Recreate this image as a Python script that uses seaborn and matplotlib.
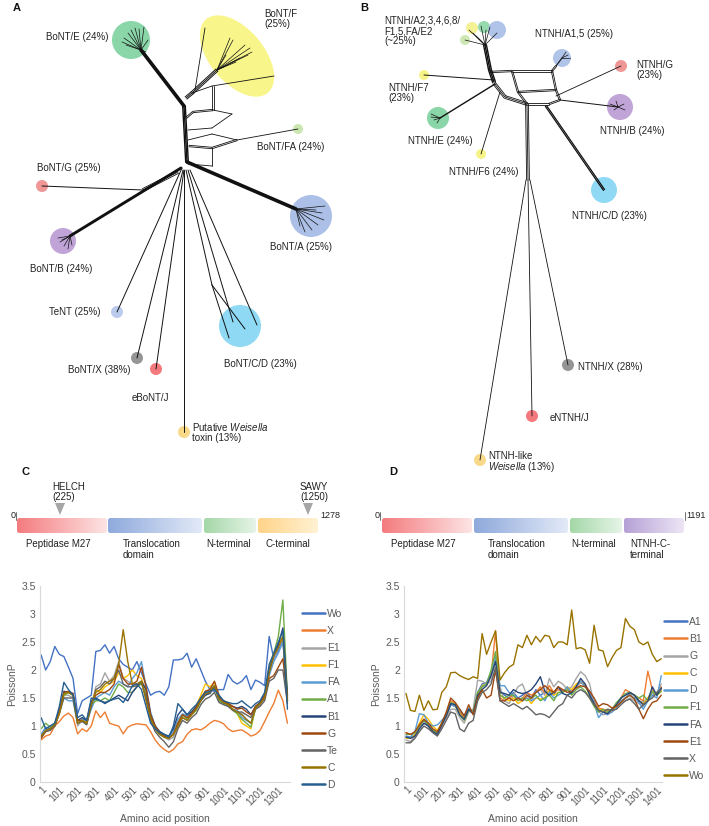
import numpy as np
import pandas as pd
import matplotlib
matplotlib.use("Agg")
import matplotlib.pyplot as plt
import seaborn as sns
from matplotlib.patches import Circle, Ellipse, FancyBboxPatch, Polygon
from matplotlib.colors import LinearSegmentedColormap

sns.set_theme(style="white")
plt.rcParams['font.family'] = ['Liberation Sans', 'DejaVu Sans']
plt.rcParams['mathtext.fontset'] = 'custom'
plt.rcParams['mathtext.rm'] = 'Liberation Sans'
plt.rcParams['mathtext.it'] = 'Liberation Sans:italic'

# ---------------------------------------------------------------
# DATA: PoissonP profiles (sampled every 25 aa)
# ---------------------------------------------------------------
pos_c = np.arange(1, 1352, 25)
pos_d = np.arange(1, 1427, 25)

c_order = ["Wo", "X", "E1", "F1", "FA", "A1", "B1", "G", "Te", "C", "D"]
c_colors = ["#4472C4", "#ED7D31", "#A5A5A5", "#FFC000", "#5B9BD5", "#70AD47",
            "#264478", "#9E480E", "#636363", "#997300", "#255E91"]

c_wo = [2.27, 2.0, 2.15, 2.42, 2.28, 2.24, 2.05, 1.85, 1.22, 1.45, 1.5, 1.55, 2.33, 2.35, 2.45, 2.3, 2.42, 2.2, 2.1,
        2.05, 2.0, 2.15, 1.95, 1.75, 1.55, 1.6, 1.62, 1.55, 1.7, 2.18, 2.18, 2.2, 2.3, 2.05, 2.2, 2.0, 1.8, 1.65, 1.62,
        1.65, 1.65, 1.92, 1.8, 1.75, 1.8, 1.9, 1.65, 1.82, 1.78, 1.72, 2.6, 2.2, 2.35, 2.55, 1.45]
c_x = [0.75, 0.82, 0.85, 1.0, 1.08, 1.18, 1.23, 1.15, 0.86, 0.95, 0.9, 1.0, 1.27, 1.15, 1.25, 1.05, 1.02, 1.0, 0.86,
       0.98, 1.02, 1.04, 1.03, 1.02, 0.9, 0.75, 0.65, 0.58, 0.53, 0.58, 0.68, 0.72, 0.85, 0.93, 0.95, 0.93, 0.98, 1.05,
       1.1, 1.08, 1.04, 0.95, 0.9, 0.92, 0.93, 0.88, 0.82, 0.85, 0.92, 1.08, 1.25, 1.4, 1.64, 1.45, 1.05]
c_e1 = [0.85, 0.95, 1.0, 1.05, 1.25, 1.55, 1.55, 1.5, 1.0, 1.1, 1.08, 1.35, 1.7, 1.75, 1.95, 1.8, 1.9, 2.15, 1.85, 1.8,
        1.75, 1.75, 1.8, 1.55, 1.15, 0.95, 0.85, 0.8, 0.75, 0.8, 1.0, 1.15, 1.1, 1.2, 1.3, 1.45, 1.55, 1.6, 1.7, 1.45,
        1.4, 1.38, 1.3, 1.25, 1.22, 1.12, 1.05, 1.3, 1.38, 1.5, 1.95, 2.2, 2.4, 2.55, 1.45]
c_f1 = [0.8, 0.9, 0.95, 1.0, 1.22, 1.55, 1.6, 1.55, 1.1, 1.1, 1.05, 1.4, 1.65, 1.6, 1.7, 1.75, 1.8, 1.95, 1.85, 1.9,
        2.0, 1.9, 1.85, 1.6, 1.2, 0.98, 0.88, 0.82, 0.78, 0.88, 1.05, 1.2, 1.18, 1.25, 1.35, 1.55, 1.75, 1.7, 1.78, 1.5,
        1.45, 1.42, 1.3, 1.22, 1.05, 1.0, 0.95, 1.35, 1.42, 1.55, 2.05, 2.3, 2.45, 2.6, 1.45]
c_fa = [0.85, 0.98, 0.95, 1.05, 1.3, 1.5, 1.45, 1.45, 1.05, 1.12, 1.1, 1.3, 1.5, 1.55, 1.6, 1.55, 1.7, 1.8, 1.75, 1.7,
        1.85, 1.95, 2.15, 1.7, 1.25, 1.0, 0.9, 0.85, 0.8, 0.9, 1.12, 1.22, 1.18, 1.22, 1.3, 1.45, 1.62, 1.65, 1.72, 1.5,
        1.4, 1.35, 1.3, 1.28, 1.15, 1.1, 1.05, 1.3, 1.4, 1.5, 1.9, 2.15, 2.3, 2.5, 1.55]
c_a1 = [0.95, 1.05, 0.98, 1.05, 1.28, 1.55, 1.6, 1.55, 1.05, 1.1, 1.05, 1.38, 1.45, 1.45, 1.5, 1.45, 1.6, 1.75, 1.7,
        1.6, 1.6, 1.7, 1.75, 1.55, 1.15, 0.95, 0.85, 0.8, 0.78, 0.85, 1.05, 1.2, 1.12, 1.2, 1.28, 1.45, 1.6, 1.62, 1.72,
        1.45, 1.4, 1.38, 1.28, 1.22, 1.12, 1.05, 0.98, 1.32, 1.4, 1.52, 2.0, 2.3, 2.6, 3.25, 1.5]
c_b1 = [0.8, 0.92, 0.95, 1.0, 1.28, 1.62, 1.6, 1.58, 1.1, 1.15, 1.1, 1.45, 1.5, 1.45, 1.42, 1.45, 1.5, 1.55, 1.5, 1.45,
        1.6, 1.7, 1.8, 1.65, 1.2, 1.0, 0.9, 0.85, 0.82, 0.95, 1.2, 1.3, 1.2, 1.25, 1.35, 1.45, 1.55, 1.58, 1.7, 1.52,
        1.45, 1.4, 1.35, 1.32, 1.35, 1.3, 1.2, 1.35, 1.42, 1.55, 2.0, 2.25, 2.45, 2.75, 1.55]
c_g = [0.78, 0.9, 0.95, 1.0, 1.25, 1.6, 1.62, 1.58, 1.1, 1.1, 1.05, 1.4, 1.55, 1.6, 1.6, 1.65, 1.75, 2.1, 1.85, 1.75,
       1.75, 1.8, 2.05, 1.7, 1.2, 1.0, 0.88, 0.82, 0.78, 0.85, 1.05, 1.2, 1.15, 1.22, 1.32, 1.5, 1.62, 1.65, 1.8, 1.55,
       1.42, 1.4, 1.35, 1.3, 1.32, 1.25, 1.2, 1.35, 1.4, 1.55, 1.85, 1.9, 2.05, 2.2, 1.5]
c_te = [0.82, 0.9, 0.92, 1.0, 1.22, 1.5, 1.5, 1.5, 1.05, 1.08, 1.02, 1.35, 1.65, 1.7, 1.8, 1.75, 1.85, 2.0, 1.75, 1.7,
        1.7, 1.72, 1.78, 1.5, 1.1, 0.9, 0.8, 0.72, 0.62, 0.72, 0.95, 1.1, 1.05, 1.15, 1.22, 1.38, 1.48, 1.52, 1.6, 1.42,
        1.38, 1.35, 1.28, 1.25, 1.25, 1.2, 1.15, 1.3, 1.35, 1.45, 1.8, 1.85, 2.0, 2.0, 1.4]
c_c = [0.82, 0.92, 0.95, 1.02, 1.22, 1.58, 1.6, 1.55, 1.05, 1.1, 1.05, 1.4, 1.6, 1.65, 1.75, 1.8, 1.85, 2.1, 2.72, 2.15,
       1.75, 1.75, 1.8, 1.45, 1.15, 0.95, 0.85, 0.8, 0.78, 0.85, 1.0, 1.15, 1.1, 1.2, 1.3, 1.45, 1.58, 1.6, 1.72, 1.48,
       1.42, 1.38, 1.3, 1.25, 1.2, 1.12, 1.05, 1.32, 1.4, 1.5, 1.95, 2.25, 2.4, 2.6, 1.45]
c_d = [1.15, 0.95, 1.0, 1.05, 1.35, 1.78, 1.65, 1.55, 1.15, 1.2, 1.1, 1.5, 1.48, 1.45, 1.4, 1.45, 1.48, 1.5, 1.42, 1.55,
       1.72, 1.75, 1.65, 1.35, 1.05, 0.95, 0.88, 0.85, 0.8, 1.0, 1.4, 1.3, 1.2, 1.3, 1.38, 1.5, 1.6, 1.62, 1.65, 1.55,
       1.45, 1.42, 1.4, 1.4, 1.45, 1.38, 1.32, 1.4, 1.45, 1.6, 2.1, 2.3, 2.5, 2.7, 1.3]
c_series = [c_wo, c_x, c_e1, c_f1, c_fa, c_a1, c_b1, c_g, c_te, c_c, c_d]

d_order = ["A1", "B1", "G", "C", "D", "F1", "FA", "E1", "X", "Wo"]
d_colors = ["#4472C4", "#ED7D31", "#A5A5A5", "#FFC000", "#5B9BD5", "#70AD47",
            "#264478", "#9E480E", "#636363", "#997300"]

d_a1 = [0.82, 0.8, 0.85, 1.0, 1.1, 1.0, 0.9, 0.88, 1.05, 1.2, 1.38, 1.35, 1.25, 1.15, 1.28, 1.22, 1.6, 1.75, 1.78, 1.95,
        2.2, 1.62, 1.55, 1.5, 1.6, 1.5, 1.55, 1.6, 1.5, 1.65, 1.55, 1.6, 1.62, 1.55, 1.7, 1.62, 1.65, 1.58, 1.72, 1.78,
        1.72, 1.62, 1.45, 1.25, 1.28, 1.22, 1.3, 1.38, 1.45, 1.5, 1.58, 1.55, 1.45, 1.42, 1.5, 1.6, 1.55, 1.68]
d_b1 = [0.88, 0.85, 0.88, 1.0, 1.12, 1.05, 0.92, 0.85, 1.0, 1.2, 1.45, 1.4, 1.25, 1.15, 1.3, 1.25, 1.5, 1.7, 1.75, 1.9,
        2.7, 1.5, 1.45, 1.5, 1.55, 1.45, 1.5, 1.6, 1.55, 1.6, 1.7, 1.58, 1.72, 1.6, 1.65, 1.62, 1.68, 1.6, 1.7, 1.78,
        1.75, 1.6, 1.42, 1.32, 1.3, 1.28, 1.25, 1.35, 1.5, 1.65, 1.6, 1.55, 1.5, 1.45, 1.98, 1.65, 1.55, 1.7]
d_g = [0.75, 0.72, 0.82, 0.95, 1.05, 1.0, 0.9, 0.85, 1.0, 1.15, 1.3, 1.3, 1.15, 1.05, 1.25, 1.3, 1.82, 1.8, 1.75, 1.8,
       2.2, 1.7, 1.45, 1.4, 1.55, 1.7, 1.75, 1.55, 1.45, 1.6, 1.65, 1.55, 1.85, 1.7, 1.8, 1.75, 1.65, 1.7, 1.85, 1.97,
       1.9, 1.75, 1.4, 1.25, 1.2, 1.22, 1.3, 1.35, 1.42, 1.45, 1.5, 1.45, 1.4, 1.35, 1.45, 1.55, 1.6, 1.75]
d_c = [0.78, 0.78, 0.85, 1.05, 1.2, 1.12, 1.0, 0.92, 1.05, 1.2, 1.4, 1.35, 1.22, 1.12, 1.3, 1.25, 1.55, 1.72, 1.75, 1.9,
       2.3, 1.55, 1.5, 1.45, 1.5, 1.4, 1.45, 1.5, 1.4, 1.5, 1.48, 1.5, 1.65, 1.55, 1.6, 1.6, 1.7, 1.65, 1.75, 1.8, 1.72,
       1.55, 1.4, 1.3, 1.28, 1.22, 1.28, 1.35, 1.45, 1.5, 1.55, 1.5, 1.45, 1.4, 1.5, 1.62, 1.55, 1.62]
d_d = [0.8, 0.8, 0.9, 1.22, 1.2, 1.05, 1.0, 1.02, 1.1, 1.2, 1.38, 1.35, 1.3, 1.18, 1.32, 1.25, 1.5, 1.7, 1.75, 1.9,
       2.25, 1.72, 1.72, 1.6, 1.55, 1.5, 1.45, 1.5, 1.45, 1.5, 1.55, 1.45, 1.6, 1.5, 1.55, 1.6, 1.7, 1.6, 1.7, 1.8, 1.7,
       1.6, 1.4, 1.15, 1.25, 1.2, 1.25, 1.32, 1.45, 1.5, 1.55, 1.5, 1.42, 1.3, 1.45, 1.55, 1.5, 1.9]
d_f1 = [0.85, 0.85, 0.88, 1.0, 1.1, 1.02, 0.92, 0.88, 1.05, 1.2, 1.42, 1.38, 1.2, 1.1, 1.28, 1.25, 1.6, 1.7, 1.75, 2.0,
        2.33, 1.55, 1.5, 1.55, 1.55, 1.45, 1.5, 1.45, 1.5, 1.55, 1.45, 1.5, 1.55, 1.45, 1.6, 1.6, 1.65, 1.55, 1.65, 1.7,
        1.62, 1.5, 1.35, 1.25, 1.3, 1.25, 1.3, 1.42, 1.5, 1.58, 1.6, 1.55, 1.5, 1.55, 1.45, 1.62, 1.55, 1.62]
d_fa = [0.8, 0.78, 0.82, 0.95, 1.05, 1.0, 0.9, 0.85, 1.02, 1.18, 1.4, 1.38, 1.2, 1.12, 1.3, 1.22, 1.55, 1.65, 1.72, 1.9,
        2.15, 1.6, 1.58, 1.55, 1.65, 1.6, 1.58, 1.6, 1.65, 1.75, 1.88, 1.62, 1.55, 1.6, 1.7, 1.58, 1.55, 1.6, 1.7, 1.85,
        1.75, 1.55, 1.4, 1.28, 1.25, 1.22, 1.3, 1.38, 1.5, 1.55, 1.6, 1.55, 1.45, 1.38, 1.45, 1.7, 1.55, 1.68]
d_e1 = [0.88, 0.85, 0.9, 1.02, 1.12, 1.05, 0.95, 0.9, 1.05, 1.25, 1.5, 1.42, 1.3, 1.18, 1.38, 1.2, 1.5, 1.65, 1.5, 1.55,
        2.0, 1.45, 1.45, 1.5, 1.45, 1.5, 1.45, 1.55, 1.5, 1.6, 1.65, 1.72, 1.65, 1.6, 1.7, 1.65, 1.6, 1.62, 1.68, 1.72,
        1.7, 1.62, 1.5, 1.35, 1.4, 1.38, 1.32, 1.35, 1.42, 1.5, 1.55, 1.48, 1.3, 1.13, 1.3, 1.42, 1.45, 1.55]
d_x = [0.7, 0.7, 0.78, 0.9, 1.0, 0.95, 0.88, 0.82, 0.95, 1.1, 1.25, 1.22, 0.95, 0.9, 1.05, 1.1, 1.45, 1.6, 1.65, 1.75,
       2.05, 1.45, 1.4, 1.35, 1.4, 1.35, 1.3, 1.35, 1.28, 1.2, 1.22, 1.2, 1.15, 1.25, 1.35, 1.4, 1.55, 1.5, 1.6, 1.65,
       1.6, 1.5, 1.38, 1.28, 1.25, 1.3, 1.28, 1.3, 1.38, 1.45, 1.48, 1.4, 1.3, 1.38, 1.45, 1.5, 1.6, 1.65]
d_wo = [1.58, 1.28, 1.26, 1.55, 1.28, 1.45, 1.29, 1.3, 1.6, 1.7, 1.95, 1.96, 1.9, 1.86, 1.83, 1.88, 1.85, 2.65, 2.28,
        2.5, 2.7, 1.82, 1.95, 2.05, 2.1, 2.45, 2.4, 2.62, 2.45, 2.6, 2.5, 2.62, 2.6, 2.4, 2.5, 2.5, 2.45, 3.07, 2.38, 2.4,
        2.36, 2.12, 2.8, 2.36, 2.34, 2.06, 2.22, 2.35, 2.4, 2.92, 2.78, 2.72, 2.5, 2.45, 2.5, 2.28, 2.15, 2.2]
d_series = [d_a1, d_b1, d_g, d_c, d_d, d_f1, d_fa, d_e1, d_x, d_wo]

# domain architecture
c_domains = ["Peptidase M27", "Translocation\ndomain", "N-terminal", "C-terminal"]
d_domains = ["Peptidase M27", "Translocation\ndomain", "N-terminal", "NTNH-C-\nterminal"]
dom_grad = [("#F47C7F", "#FDE3E3"), ("#8FAADC", "#E2E9F7"), ("#A4D8A8", "#E6F4E7"), ("#FFD48A", "#FFF1D2")]
d_grad4 = ("#B6A1D6", "#ECE5F5")

# network tree clades: label, circle centre, radius, colour
a_clades = [("BoNT/E (24%)", (131, 40), 19, "#7DD2A0"),
            ("BoNT/FA (24%)", (298, 129), 5, "#C6E4A8"),
            ("BoNT/A (25%)", (311, 216), 21, "#A3B9E5"),
            ("BoNT/G (25%)", (42, 186), 6, "#EE8C8C"),
            ("BoNT/B (24%)", (63, 241), 13, "#B99AD3"),
            ("TeNT (25%)", (117, 312), 6, "#B3C6EC"),
            ("BoNT/X (38%)", (137, 358), 6, "#8A8A8A"),
            ("eBoNT/J", (156, 369), 6, "#F26A6E"),
            ("Weisella", (184, 432), 6, "#F8D57C"),
            ("BoNT/C/D (23%)", (240, 326), 21, "#83D5F3")]
b_clades = [("top1", (472, 28), 6, "#F4F08A"), ("top2", (484, 27), 6, "#88D6A4"),
            ("top3", (497, 30), 9, "#A8BDE6"), ("top4", (465, 40), 5, "#C9E5AC"),
            ("NTNH/A1,5 (25%)", (562, 58), 9, "#A8BDE6"),
            ("NTNH/G", (621, 66), 6, "#EE8C8C"),
            ("NTNH/F7", (424, 75), 5, "#F6F37C"),
            ("NTNH/E (24%)", (438, 118), 11, "#7DD2A0"),
            ("NTNH/F6 (24%)", (481, 154), 5, "#F6F37C"),
            ("NTNH/B (24%)", (620, 107), 13, "#B99AD3"),
            ("NTNH/C/D (23%)", (604, 190), 13, "#83D5F3"),
            ("NTNH/X (28%)", (568, 365), 6, "#8A8A8A"),
            ("eNTNH/J", (532, 416), 6, "#F26A6E"),
            ("Weisella", (480, 460), 6, "#F8D57C")]

W, H = 709, 826
fig = plt.figure(figsize=(W / 100, H / 100), dpi=100)
ax0 = fig.add_axes([0, 0, 1, 1])
ax0.set_xlim(0, W)
ax0.set_ylim(H, 0)
ax0.axis("off")


def edge(p, q, lw=0.6, n=1, gap=1.4):
    p, q = np.array(p, float), np.array(q, float)
    d = q - p
    nrm = np.array([-d[1], d[0]]) / np.hypot(*d)
    for k in range(n):
        o = (k - (n - 1) / 2) * gap * nrm
        ax0.plot([p[0] + o[0], q[0] + o[0]], [p[1] + o[1], q[1] + o[1]],
                 color="#111111", lw=lw, solid_capstyle="round", zorder=3)


def poly(pts, lw=0.6, n=1):
    for a, b in zip(pts[:-1], pts[1:]):
        edge(a, b, lw=lw, n=n)


def fan(root, leaves, lw=0.5):
    for lf in leaves:
        edge(root, lf, lw=lw)


tk = dict(fontsize=7, color="#222222", zorder=5)

# ---------------- Panel A ----------------
for name, c, r, col in a_clades:
    ax0.add_patch(Circle(c, r, color=col, alpha=0.9, lw=0, zorder=2))
ax0.add_patch(Ellipse((237, 56), 96, 54, angle=50, color="#F8F57E", alpha=0.9, lw=0, zorder=2))

edge((184, 106), (187, 162), lw=1.0, n=3, gap=1.3)
edge((184, 106), (141, 50), lw=2.6)
fan((141, 50), [(128, 33), (131, 30), (135, 28), (139, 29), (144, 27), (124, 38), (122, 42), (126, 45), (146, 52), (148, 40)])
edge((187, 162), (296, 209), lw=2.6)
fan((296, 209), [(325, 206), (322, 213), (324, 220), (318, 225), (312, 230), (305, 232), (300, 226), (316, 210)])
edge((181, 168), (70, 236), lw=2.1)
fan((70, 236), [(58, 238), (60, 242), (64, 246), (68, 249), (72, 245), (62, 240)])
edge((178, 172), (143, 190), lw=0.6, n=3)
edge((143, 190), (42, 186), lw=0.7)
poly([(186, 98), (192, 93), (217, 70)], lw=0.7, n=3)
fan((217, 70), [(230, 38), (233, 40), (245, 45), (250, 48), (252, 52), (240, 58), (248, 55), (226, 55), (236, 62)])
edge((195, 90), (205, 28), lw=0.6)
poly([(192, 93), (212, 86), (274, 76)], lw=0.6)
poly([(186, 118), (193, 112), (213, 110), (213, 86)], lw=0.6, n=2)
poly([(188, 130), (212, 128), (232, 114), (213, 110)], lw=0.6)
poly([(188, 140), (212, 134), (237, 140), (298, 129)], lw=0.6)
poly([(189, 146), (212, 148), (237, 140)], lw=0.6, n=2)
edge((212, 148), (212, 166), lw=0.6)
edge((212, 166), (188, 164), lw=0.6)
edge((182, 168), (117, 312), lw=0.7)
edge((183, 170), (137, 358), lw=0.7)
edge((184, 170), (156, 369), lw=0.7)
edge((184, 170), (184, 432), lw=0.7)
poly([(186, 170), (212, 285), (229, 338)], lw=0.7)
edge((212, 285), (245, 329), lw=0.7)
edge((190, 170), (257, 325), lw=0.7)
edge((188, 170), (233, 322), lw=0.7)

ax0.text(108, 37, "BoNT/E (24%)", ha="right", va="center", **tk)
ax0.text(264, 19, "BoNT/F\n(25%)", ha="left", va="center", linespacing=1.05, **tk)
ax0.text(257, 147, "BoNT/FA (24%)", ha="left", va="center", **tk)
ax0.text(270, 247, "BoNT/A (25%)", ha="left", va="center", **tk)
ax0.text(37, 168, "BoNT/G (25%)", ha="left", va="center", **tk)
ax0.text(30, 269, "BoNT/B (24%)", ha="left", va="center", **tk)
ax0.text(49, 312, "TeNT (25%)", ha="left", va="center", **tk)
ax0.text(68, 370, "BoNT/X (38%)", ha="left", va="center", **tk)
ax0.text(132, 398, "eBoNT/J", ha="left", va="center", **tk)
ax0.text(224, 364, "BoNT/C/D (23%)", ha="left", va="center", **tk)
ax0.text(192, 427, r"Putative $\mathit{Weisella}$", ha="left", va="center", **tk)
ax0.text(192, 438, "toxin (13%)", ha="left", va="center", **tk)

# ---------------- Panel B ----------------
for name, c, r, col in b_clades:
    ax0.add_patch(Circle(c, r, color=col, alpha=0.9, lw=0, zorder=2))

fan((485, 45), [(465, 40), (469, 30), (473, 33), (476, 36), (481, 26), (486, 30), (490, 27), (497, 33), (478, 38)])
poly([(485, 45), (490, 70), (494, 82)], lw=1.0, n=3)
edge((494, 80), (424, 75), lw=0.7)
edge((495, 84), (440, 118), lw=1.0)
fan((440, 118), [(431, 114), (434, 120), (437, 123), (431, 117)])
edge((500, 92), (481, 154), lw=0.6)
poly([(490, 72), (512, 71), (552, 71), (556, 66)], lw=0.6, n=2)
edge((556, 66), (562, 58), lw=0.8)
fan((562, 58), [(568, 55), (570, 58), (566, 52)])
poly([(512, 71), (518, 92), (556, 90), (552, 71)], lw=0.6, n=2)
poly([(494, 83), (505, 97), (527, 104)], lw=0.6, n=3)
edge((518, 92), (527, 104), lw=0.6, n=2)
poly([(527, 104), (549, 104), (560, 100), (556, 90)], lw=0.6, n=2)
edge((556, 96), (621, 66), lw=0.6)
edge((560, 100), (618, 107), lw=0.7)
fan((618, 107), [(610, 104), (614, 110), (624, 104), (625, 110), (616, 101)])
edge((546, 106), (604, 190), lw=0.9, n=2)
edge((527, 104), (528, 180), lw=0.6, n=3)
edge((530, 180), (568, 365), lw=0.6)
edge((528, 180), (532, 416), lw=0.6)
edge((526, 180), (480, 460), lw=0.6)

ax0.text(384, 31, "NTNH/A2,3,4,6,8/\nF1,5,FA/E2\n(~25%)", ha="left", va="center", linespacing=1.05, **tk)
ax0.text(535, 34, "NTNH/A1,5 (25%)", ha="left", va="center", **tk)
ax0.text(636, 70, "NTNH/G\n(23%)", ha="left", va="center", linespacing=1.05, **tk)
ax0.text(388, 93, "NTNH/F7\n(23%)", ha="left", va="center", linespacing=1.05, **tk)
ax0.text(408, 141, "NTNH/E (24%)", ha="left", va="center", **tk)
ax0.text(449, 172, "NTNH/F6 (24%)", ha="left", va="center", **tk)
ax0.text(600, 131, "NTNH/B (24%)", ha="left", va="center", **tk)
ax0.text(572, 216, "NTNH/C/D (23%)", ha="left", va="center", **tk)
ax0.text(578, 367, "NTNH/X (28%)", ha="left", va="center", **tk)
ax0.text(550, 418, "eNTNH/J", ha="left", va="center", **tk)
ax0.text(488, 456, "NTNH-like", ha="left", va="center", **tk)
ax0.text(488, 467, r"$\mathit{Weisella}$ (13%)", ha="left", va="center", **tk)

for lab, (x, y) in zip("ABCD", [(13, 8), (360, 8), (22, 472), (389, 472)]):
    ax0.text(x, y, lab, fontsize=8, fontweight="bold", ha="left", va="center", color="#111111")


# ---------------- domain bars ----------------
def domain_bar(x_edges, grads, labels, lab_x, y0=518, h=15):
    for (x0, x1), (c0, c1), lab, lx in zip(x_edges, grads, labels, lab_x):
        cm = LinearSegmentedColormap.from_list("g", [c0, c1])
        im = ax0.imshow(np.linspace(0, 1, 64).reshape(1, -1), cmap=cm, aspect="auto",
                        extent=(x0, x1, y0 + h, y0), zorder=2)
        box = FancyBboxPatch((x0, y0), x1 - x0, h, boxstyle="round,pad=0,rounding_size=2.5",
                             fc="none", ec="none", transform=ax0.transData)
        ax0.add_patch(box)
        im.set_clip_path(box)
        ax0.text(lx, y0 + h + 6, lab, ha="left", va="top", fontsize=7, color="#222222", linespacing=1.1)


domain_bar([(17, 107), (108, 202), (204, 256), (258, 318)], dom_grad, c_domains, [26, 123, 206, 266])
domain_bar([(382, 472), (474, 568), (570, 622), (624, 684)], dom_grad[:3] + [d_grad4], d_domains, [391, 488, 571, 630])
ax0.text(13, 515, "0", fontsize=6.5, ha="center", va="center", color="#222222")
ax0.plot([16, 16], [512, 520], color="#333333", lw=0.5)
ax0.text(320, 515, "1278", fontsize=6.5, ha="left", va="center", color="#222222")
ax0.text(377, 515, "0", fontsize=6.5, ha="center", va="center", color="#222222")
ax0.plot([380, 380], [512, 520], color="#333333", lw=0.5)
ax0.text(686, 515, "1191", fontsize=6.5, ha="left", va="center", color="#222222")
ax0.plot([685, 685], [512, 520], color="#333333", lw=0.5)
for x, lab in [(60, "HELCH\n(225)"), (308, "SAWY\n(1250)")]:
    ax0.add_patch(Polygon([(x - 5, 503), (x + 5, 503), (x, 515)], closed=True, fc="#A6A6A6", ec="none", zorder=4))
    ax0.text(x - 8, 492, lab, fontsize=7, ha="left", va="center", linespacing=1.1, color="#222222")


# ---------------- line charts ----------------
def long_df(pos, order, series):
    rows = []
    for name, vals in zip(order, series):
        rows.append(pd.DataFrame({"pos": pos, "val": vals, "series": name}))
    return pd.concat(rows, ignore_index=True)


def style_chart(ax, xmax_tick, xlim):
    ax.set_xlim(*xlim)
    ax.set_ylim(0, 3.5)
    ax.set_yticks(np.arange(0, 3.51, 0.5))
    ax.set_yticklabels(["0", "0.5", "1", "1.5", "2", "2.5", "3", "3.5"])
    ticks = np.arange(1, xmax_tick + 1, 100)
    ax.set_xticks(ticks)
    ax.set_xticklabels([str(t) for t in ticks], rotation=45, ha="right", rotation_mode="anchor")
    ax.tick_params(axis="both", length=0, labelsize=7.5, colors="#595959", pad=3)
    ax.tick_params(axis="x", labelsize=7, pad=2)
    for s in ["top", "right"]:
        ax.spines[s].set_visible(False)
    for s in ["left", "bottom"]:
        ax.spines[s].set_color("#D9D9D9")
        ax.spines[s].set_linewidth(0.8)
    ax.set_xlabel("Amino acid position", fontsize=7.5, color="#595959", labelpad=5)
    ax.set_ylabel("PoissonP", fontsize=7.5, color="#595959", labelpad=3)
    ax.patch.set_alpha(0)


axC = fig.add_axes([40 / W, 44 / H, 250 / W, 196 / H])
dfC = long_df(pos_c, c_order, c_series)
sns.lineplot(data=dfC, x="pos", y="val", hue="series", hue_order=c_order,
             palette=dict(zip(c_order, c_colors)), estimator=None, lw=1.0, ax=axC)
style_chart(axC, 1301, (-5, 1365))
hC, lC = axC.get_legend_handles_labels()
for hh in hC:
    hh.set_linewidth(1.8)
axC.legend(hC, lC, loc="upper left", bbox_to_anchor=(302 / W, 1 - 609 / H), bbox_transform=fig.transFigure,
           frameon=False, fontsize=7.5, handlelength=2.2, handletextpad=0.2, labelspacing=0.68,
           borderaxespad=0, borderpad=0, labelcolor="#595959")

axD = fig.add_axes([404 / W, 44 / H, 258 / W, 196 / H])
dfD = long_df(pos_d, d_order, d_series)
sns.lineplot(data=dfD, x="pos", y="val", hue="series", hue_order=d_order,
             palette=dict(zip(d_order, d_colors)), estimator=None, lw=1.0, ax=axD)
style_chart(axD, 1401, (-10, 1430))
hD, lD = axD.get_legend_handles_labels()
for hh in hD:
    hh.set_linewidth(1.8)
axD.legend(hD, lD, loc="upper left", bbox_to_anchor=(664 / W, 1 - 617 / H), bbox_transform=fig.transFigure,
           frameon=False, fontsize=7.5, handlelength=2.2, handletextpad=0.2, labelspacing=0.68,
           borderaxespad=0, borderpad=0, labelcolor="#595959")

fig.savefig("out.png", dpi=100)
